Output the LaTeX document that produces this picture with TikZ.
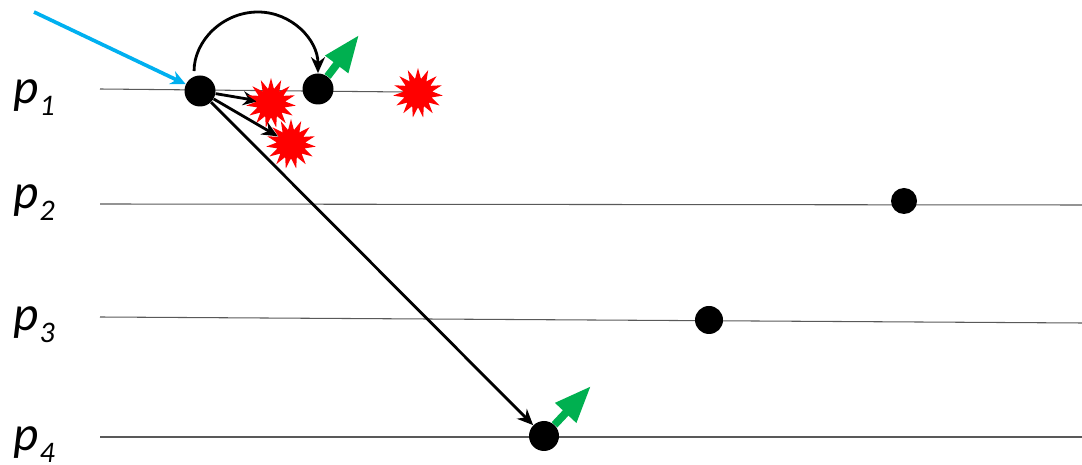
\documentclass[tikz,border=0pt]{standalone}
\usepackage{fontspec}
\setmainfont{Carlito}
\usepackage{tikz}
\usetikzlibrary{arrows.meta,shapes.geometric,backgrounds}
\definecolor{beamblue}{HTML}{00B0F0}
\definecolor{emitgreen}{HTML}{00B050}
\newcommand{\pname}[1]{\textit{p}\hspace{0.5pt}\raisebox{-6.8pt}{\fontsize{17}{17}\selectfont\textit{#1}}}

\begin{document}
\begin{tikzpicture}[
  x=0.02cm, y=-0.02cm,
  font=\fontsize{28}{28}\selectfont,
  dot/.style={circle, fill=black, inner sep=0pt, minimum size=#1*0.02cm},
  burst/.style={star, star points=15, star point ratio=1.75, fill=red, draw=none, inner sep=0pt, minimum size=50*0.02cm},
  level/.style={inner sep=0pt, anchor=base west},
  track/.style={line width=0.6pt, black!65},
  arrow/.style={-{Stealth[length=3.2mm,width=2.8mm]}, line width=1.6pt},
  beam/.style={-{Stealth[length=3mm,width=2.8mm]}, line width=2.1pt, beamblue},
  emit/.style={-{Triangle[length=7.4mm,width=5.4mm]}, line width=4.4pt, emitgreen}
]
\path[use as bounding box] (0,0) rectangle (1082,465);

\node[level] (p1) at (13,104) {\pname{1}};
\node[level] (p2) at (13,209) {\pname{2}};
\node[level] (p3) at (13,331) {\pname{3}};
\node[level] (p4) at (13,451) {\pname{4}};

\coordinate (t1a) at (100,89);
\coordinate (t1b) at (405,92);
\coordinate (t2a) at (100,204);
\coordinate (t2b) at (1082,205);
\coordinate (t3a) at (100,317);
\coordinate (t3b) at (1082,323);
\coordinate (t4a) at (100,437);
\coordinate (t4b) at (1082,437);

\coordinate (src) at (34,12);
\coordinate (top) at (258,12);
\coordinate (hit1) at (259,101);
\coordinate (tip1) at (359,35);
\coordinate (tip2) at (591,386);

\node[dot=31] (a) at (200,91) {};
\node[dot=31] (b) at (318,89) {};
\node[dot=26] (c) at (904,201) {};
\node[dot=28] (d) at (709,320) {};
\node[dot=30] (e) at (544,436) {};

\begin{scope}[on background layer]
  \draw[track] (t1a) -- (t1b);
  \draw[track] (t2a) -- (t2b);
  \draw[track] (t3a) -- (t3b);
  \draw[track] (t4a) -- (t4b);
\end{scope}

\draw[emit] (b) -- (tip1);
\draw[emit] (e) -- (tip2);

\draw[arrow] (a) -- (hit1);
\node[burst] (s1) at (271,103) {};
\node[burst] (s2) at (291,144) {};
\node[burst] (s3) at (418,93) {};
\draw[arrow] (a) -- (s2);

\draw[beam] (src) -- (a);
\draw[arrow, shorten <=3pt] (a.112) to[out=90,in=180] (top) to[out=0,in=90] (b.north);
\draw[arrow] (a) -- (e);
\end{tikzpicture}
\end{document}
